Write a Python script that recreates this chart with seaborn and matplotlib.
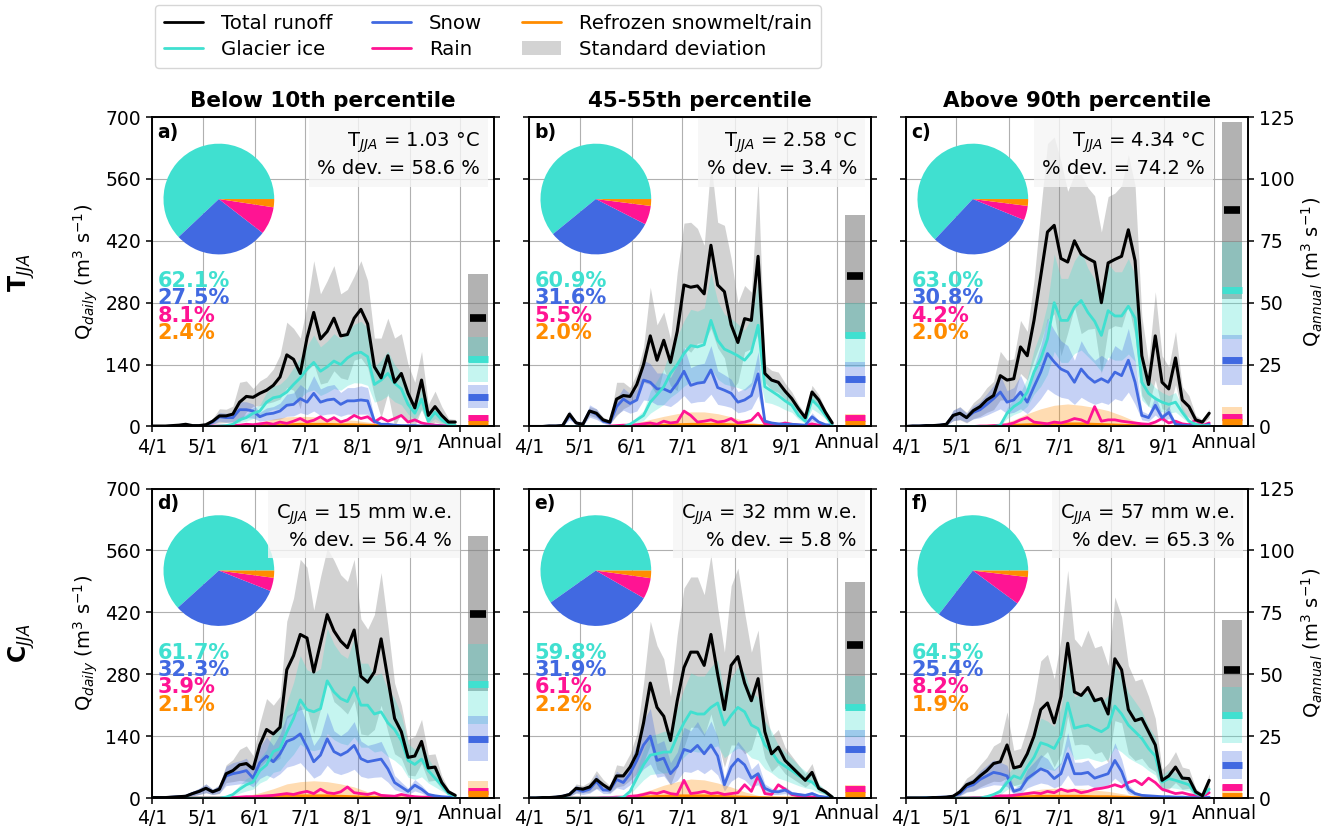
import numpy as np
import matplotlib
matplotlib.use("Agg")
import matplotlib.pyplot as plt
import seaborn as sns
from matplotlib.lines import Line2D
from matplotlib.patches import Patch

# ==========================================
# DATA
# ==========================================

days = np.arange(0, 184, 4)    # days after 1 April
days8 = np.arange(0, 184, 8)   # coarser grid for refrozen melt

# ---- a) T_JJA below 10th percentile ----
total_a = [1,1,1,2,3,5,2,2,4,12, 24,24,28,55,68,66,75,82,93,112,
           162,152,120,200,258,198,215,245,205,208, 245,265,232,135,110,160,100,120,75,42,
           105,25,45,25,10,10]
glacier_a = [0,0,0,0,0,0,0,0,0,0, 1,2,5,15,20,30,35,55,65,68,
             78,95,110,130,145,125,135,148,140,155, 165,168,158,95,105,120,98,85,50,30,
             62,12,32,15,5,3]
snow_a = [0,0,0,1,2,4,1,1,2,10, 22,20,20,38,38,35,22,28,30,35,
          48,50,63,55,75,55,60,62,50,58, 58,60,58,12,5,5,3,2,2,2,
          1,1,1,1,0,0]
rain_a = [0,0,0,0,0,0,0,0,0,1, 1,1,2,3,5,4,6,8,5,10,
          7,12,18,10,14,22,12,20,10,15, 25,18,22,10,20,12,18,25,10,15,
          8,5,3,2,1,1]
total_sd_a = [0,0,0,1,2,3,1,1,2,6, 16,15,18,45,35,20,28,30,37,50,
              74,70,80,74,117,102,115,119,95,102, 95,110,98,65,90,85,100,90,65,58,
              65,25,35,20,8,6]
glacier_sd_a = [0,0,0,0,0,0,0,0,0,0, 0,1,2,6,8,12,14,22,26,28,
                32,38,45,52,62,55,58,62,58,62, 66,70,65,40,45,50,42,36,22,14,
                25,6,14,7,2,1]
snow_sd_a = [0,0,0,0,1,2,0,0,1,5, 10,10,10,18,18,16,10,14,15,18,
             25,26,32,28,40,30,32,33,27,30, 30,32,30,6,3,3,2,1,1,1,
             0,0,0,0,0,0]
refr_a = [0,0,0,0,0,0,0.5,1,2,3,4,5,5,5,4,4,3,2,1,0.5,0,0,0]
refr_sd_a = [0,0,0,0,0,0,1,3,8,14,18,18,17,14,12,10,7,4,2,1,0,0,0]

# ---- b) T_JJA 45-55th percentile ----
total_b = [0,0,0,1,1,2,28,8,5,35, 30,15,10,62,70,68,95,140,205,150,
           195,145,215,320,315,318,300,410,320,305, 230,190,244,240,385,120,105,100,80,63,
           40,20,78,60,32,8]
glacier_b = [0]*15 + [5,15,25,55,72,90,120,140,165,183, 180,185,240,195,175,168,160,150,168,229,
                      90,80,70,58,48,25,12,60,45,25, 3]
snow_b = [0,0,0,1,1,2,25,8,5,35, 28,12,8,45,62,52,60,105,100,85,
          85,78,98,125,93,98,100,128,88,82, 75,55,60,70,119,12,8,6,5,5,
          4,3,22,10,4,3]
rain_b = [0,0,0,0,0,0,0,0,0,0, 0,0,1,2,3,3,4,6,8,5,
          12,8,10,35,25,10,12,15,10,12, 18,8,10,14,30,6,5,4,8,5,
          3,2,6,3,1,1]
total_sd_b = [0,0,0,0,1,1,8,3,2,10, 10,6,4,38,30,20,25,40,110,80,
              64,53,134,140,147,130,110,188,142,150, 150,90,75,64,175,20,22,23,18,15,
              10,8,15,12,6,3]
glacier_sd_b = [0]*15 + [2,7,11,25,32,40,54,63,74,82, 81,83,108,88,79,76,72,68,76,100,
                         35,28,24,20,16,9,4,20,15,8, 1]
snow_sd_b = [0,0,0,0,0,1,10,3,2,14, 12,5,3,18,25,22,25,45,42,36,
             36,33,42,55,40,42,43,55,38,35, 32,24,26,30,50,5,3,2,2,2,
             2,1,9,4,2,1]
refr_b = [0,0,0,0,0,0,0,0.5,1,2,3,4,5,5,5,4,3,2,1,0.5,0,0,0]
refr_sd_b = [0,0,0,0,0,0,1,3,8,14,20,25,28,28,24,18,10,5,2,1,0,0,0]

# ---- c) T_JJA above 90th percentile ----
total_c = [0,1,1,2,2,3,5,25,30,20, 36,45,60,70,115,105,108,180,160,240,
           340,440,455,380,372,420,390,380,372,280, 370,378,385,445,375,160,95,205,100,85,
           155,60,45,15,10,30]
glacier_c = [0]*14 + [3,30,45,55,78,123,153,198,280,240, 240,270,285,258,238,206,262,250,250,272,
                      245,100,75,63,55,50,55,32,12,5, 2,2]
snow_c = [0,1,1,2,2,3,5,25,30,20, 32,38,50,63,78,55,60,78,55,90,
          123,165,146,130,123,100,130,112,100,108, 100,123,115,150,100,25,20,48,20,32,
          5,3,2,2,1,5]
rain_c = [0,0,0,0,0,0,0,0,0,0, 0,1,1,2,3,4,8,15,20,10,
          8,6,10,8,12,18,15,8,45,12, 15,15,12,10,8,6,5,10,18,8,
          12,6,4,15,2,8]
total_sd_c = [0,0,0,1,1,2,3,12,15,12, 18,22,28,32,55,45,45,60,55,90,
              150,200,200,220,160,150,180,160,150,160, 150,150,160,170,170,90,50,100,60,50,
              60,30,25,10,5,10]
glacier_sd_c = [0]*14 + [1,12,18,22,32,50,62,80,110,95, 95,105,112,100,95,82,105,100,100,108,
                         98,40,30,25,22,20,22,12,5,2, 1,1]
snow_sd_c = [0,0,0,1,1,1,2,12,14,10, 15,18,24,30,38,26,28,38,26,45,
             60,80,72,64,60,50,64,55,50,53, 50,60,57,72,50,10,8,22,8,14,
             2,1,1,1,0,2]
refr_c = [0,0,0,0,0,0,0.5,1,3,4,5,6,6,6,5,4,3,2,1,0.5,0,0,0]
refr_sd_c = [0,0,0,0,0,0,1,5,12,25,35,42,45,42,38,32,22,10,4,1,0,0,0]

# ---- d) C_JJA below 10th percentile ----
total_d = [1,1,1,2,3,4,10,15,22,14, 20,55,62,75,78,66,120,155,145,160,
           290,322,370,362,285,350,415,378,355,340, 380,275,262,285,360,270,180,150,92,95,
           128,68,70,35,14,6]
glacier_d = [0]*11 + [2,8,20,30,36,62,75,105,112, 149,180,222,200,195,202,265,240,225,218,
                      250,210,210,190,195,170,155,130,85,76, 88,62,45,29,10,4]
snow_d = [1,1,1,2,3,4,10,15,22,14, 20,50,55,58,62,45,80,95,82,100,
          128,134,145,115,82,97,134,105,97,105, 119,89,82,85,88,66,35,25,15,29,
          20,8,5,3,2,1]
rain_d = [0,0,0,0,0,0,0,0,0,0, 0,1,1,2,3,3,4,5,6,8,
          10,8,12,15,10,20,12,10,14,25, 12,10,8,12,6,5,4,8,5,3,
          2,2,1,1,0,0]
total_sd_d = [0,0,0,1,1,2,5,7,10,6, 10,20,25,35,40,30,50,70,65,70,
              110,130,170,160,140,150,150,160,150,150, 160,130,120,130,150,120,80,60,40,45,
              50,30,30,15,6,3]
glacier_sd_d = [0]*11 + [1,4,9,14,16,28,34,47,50, 67,81,100,90,88,91,119,108,101,98,
                         112,95,95,86,88,76,70,58,38,34, 40,28,20,13,4,2]
snow_sd_d = [0,0,0,1,1,2,5,7,10,6, 9,22,25,26,28,20,36,43,37,45,
             58,60,65,52,37,44,60,47,44,47, 54,40,37,38,40,30,16,11,7,13,
             9,4,2,1,1,0]
refr_d = [0,0,0,0,0,0,0.5,1,2,3,4,5,5,5,4,3,2,1,0.5,0,0,0,0]
refr_sd_d = [0,0,0,0,0,0,1,4,10,18,28,32,34,32,28,22,12,5,2,1,0,0,0]

# ---- e) C_JJA 45-55th percentile ----
total_e = [0,0,1,1,2,4,8,22,20,25, 42,30,20,50,50,70,100,170,260,205,
           185,130,220,295,330,330,300,370,280,200, 300,320,260,220,270,150,100,115,85,70,
           55,40,58,22,14,2]
glacier_e = [0]*14 + [2,15,45,75,97,100,104,104,140,170, 195,190,190,205,215,165,187,205,195,165,
                      157,120,104,82,72,62,51,42,36,22, 12,2]
snow_e = [0,0,1,1,2,4,8,20,15,20, 38,18,18,42,35,55,85,120,140,85,
          90,55,72,110,105,119,100,120,95,30, 70,88,75,45,55,22,15,14,18,10,
          8,6,10,4,2,1]
rain_e = [0,0,0,0,0,0,0,0,0,0, 0,1,1,2,2,4,5,8,12,10,
          15,10,8,40,10,12,15,10,12,8, 10,12,30,15,50,10,8,30,20,8,
          5,3,2,2,1,0]
total_sd_e = [0,0,0,1,1,2,4,10,8,12, 20,12,8,25,22,30,45,90,140,140,
              130,100,150,180,170,170,160,180,150,130, 180,200,160,110,110,60,40,40,30,25,
              20,15,20,8,5,1]
glacier_sd_e = [0]*14 + [1,6,20,34,44,45,47,47,63,77, 88,86,86,92,97,74,84,92,88,74,
                         71,54,47,37,32,28,23,19,16,10, 5,1]
snow_sd_e = [0,0,0,0,1,2,4,9,7,9, 17,8,8,19,16,25,38,54,63,38,
             40,25,32,50,47,54,45,54,43,14, 32,40,34,20,25,10,7,6,8,5,
             4,3,5,2,1,0]
refr_e = [0,0,0,0,0,0,0.3,1,2,3,4,5,5,5,4,3,2,1,0.5,0,0,0,0]
refr_sd_e = [0,0,0,0,0,0,1,3,8,15,25,32,38,36,30,22,12,5,2,1,0,0,0]

# ---- f) C_JJA above 90th percentile ----
total_f = [0,0,0,0,1,1,2,4,14,30, 36,50,62,78,82,120,68,72,100,140,
           200,215,170,230,350,240,232,250,220,225, 190,315,290,200,175,180,150,120,40,50,
           70,45,44,14,5,40]
glacier_f = [0]*12 + [3,8,15,35,50,44,70,92, 125,120,112,140,215,158,162,165,157,150,
                      160,208,190,165,150,135,112,95,36,44, 40,35,30,10,5,20]
snow_f = [0,0,0,1,1,2,2,4,10,25, 30,42,50,58,55,50,15,20,44,55,
          66,60,44,55,100,55,55,58,45,50, 55,85,60,20,10,6,5,4,3,3,
          2,2,1,1,0,2]
rain_f = [0,0,0,0,0,0,0,0,0,0, 1,1,2,3,5,5,6,8,10,12,
          10,15,12,20,15,18,12,15,20,22, 25,30,25,35,40,30,45,35,20,15,
          10,12,8,5,3,12]
total_sd_f = [0,0,0,0,1,1,2,3,8,15, 20,25,30,40,45,75,40,40,60,80,
              110,110,100,130,165,120,110,130,120,120, 110,140,120,100,90,90,80,60,25,30,
              35,25,22,8,4,15]
glacier_sd_f = [0]*12 + [1,4,7,16,22,20,32,41, 56,54,50,63,97,71,73,74,71,68,
                         72,94,86,74,68,61,50,43,16,20, 18,16,14,5,2,9]
snow_sd_f = [0,0,0,0,0,1,1,2,5,12, 14,20,24,28,26,24,7,10,21,26,
             32,29,21,26,48,26,26,28,22,24, 26,40,28,10,5,3,2,2,1,1,
             1,1,0,0,0,1]
refr_f = [0,0,0,0,0,0,0.3,1,2,3,4,4,4,4,3,3,2,1,0.5,0,0,0,0]
refr_sd_f = [0,0,0,0,0,0,1,3,7,12,16,18,18,17,15,12,8,4,2,1,0,0,0]

# ---- annual means / std (right axis), order a..f ----
ann_total = [43.8, 60.6, 87.3, 74.4, 61.7, 51.9]
ann_total_sd = [17.9, 24.9, 35.7, 31.3, 25.6, 19.9]
ann_glacier = [27.2, 36.9, 55.0, 45.9, 36.9, 33.5]
ann_glacier_sd = [9.1, 12.8, 19.5, 16.2, 12.4, 11.4]
ann_snow = [12.0, 19.1, 26.9, 24.0, 19.7, 13.2]
ann_snow_sd = [4.7, 7.0, 10.1, 9.1, 7.6, 5.7]
ann_rain = [3.5, 3.3, 3.7, 2.9, 3.8, 4.3]
ann_rain_sd = [1.0, 1.0, 1.5, 1.0, 1.0, 1.0]
ann_refr = [1.05, 1.2, 1.75, 1.56, 1.36, 0.99]
ann_refr_sd = [1.0, 4.0, 6.0, 5.5, 4.0, 2.5]

# ---- pie shares (%): glacier, snow, rain, refrozen ----
pct_a = [62.1, 27.5, 8.1, 2.4]
pct_b = [60.9, 31.6, 5.5, 2.0]
pct_c = [63.0, 30.8, 4.2, 2.0]
pct_d = [61.7, 32.3, 3.9, 2.1]
pct_e = [59.8, 31.9, 6.1, 2.2]
pct_f = [64.5, 25.4, 8.2, 1.9]

t_jja = ["1.03", "2.58", "4.34"]
c_jja = ["15", "32", "57"]
pct_dev = ["58.6", "3.4", "74.2", "56.4", "5.8", "65.3"]

col_titles = ["Below 10th percentile", "45-55th percentile", "Above 90th percentile"]
tick_days = [0, 30, 61, 91, 122, 153, 183]
tick_labels = ["4/1", "5/1", "6/1", "7/1", "8/1", "9/1", ""]

# ==========================================
# STYLE
# ==========================================

sns.set_style("ticks")
plt.rcParams["font.family"] = ["DejaVu Sans"]
plt.rcParams.update({
    "axes.edgecolor": "black", "axes.labelcolor": "black", "text.color": "black",
    "xtick.color": "black", "ytick.color": "black",
    "xtick.major.size": 4.5, "ytick.major.size": 4.5,
    "xtick.major.width": 1.1, "ytick.major.width": 1.1,
    "axes.linewidth": 1.2,
})

C_TOT = "black"
C_GLA = "turquoise"
C_SNO = "royalblue"
C_RAI = "deeppink"
C_REF = "darkorange"

panels = [
    dict(total=total_a, glacier=glacier_a, snow=snow_a, rain=rain_a, refr=refr_a,
         tsd=total_sd_a, gsd=glacier_sd_a, ssd=snow_sd_a, rsd=refr_sd_a, pct=pct_a),
    dict(total=total_b, glacier=glacier_b, snow=snow_b, rain=rain_b, refr=refr_b,
         tsd=total_sd_b, gsd=glacier_sd_b, ssd=snow_sd_b, rsd=refr_sd_b, pct=pct_b),
    dict(total=total_c, glacier=glacier_c, snow=snow_c, rain=rain_c, refr=refr_c,
         tsd=total_sd_c, gsd=glacier_sd_c, ssd=snow_sd_c, rsd=refr_sd_c, pct=pct_c),
    dict(total=total_d, glacier=glacier_d, snow=snow_d, rain=rain_d, refr=refr_d,
         tsd=total_sd_d, gsd=glacier_sd_d, ssd=snow_sd_d, rsd=refr_sd_d, pct=pct_d),
    dict(total=total_e, glacier=glacier_e, snow=snow_e, rain=rain_e, refr=refr_e,
         tsd=total_sd_e, gsd=glacier_sd_e, ssd=snow_sd_e, rsd=refr_sd_e, pct=pct_e),
    dict(total=total_f, glacier=glacier_f, snow=snow_f, rain=rain_f, refr=refr_f,
         tsd=total_sd_f, gsd=glacier_sd_f, ssd=snow_sd_f, rsd=refr_sd_f, pct=pct_f),
]

box_right = [0.959, 0.959, 0.874, 0.877, 0.959, 0.962]
letters = ["a)", "b)", "c)", "d)", "e)", "f)"]

# ==========================================
# FIGURE
# ==========================================

fig = plt.figure(figsize=(13.38, 8.33), dpi=100)
axes = fig.subplots(2, 3)
fig.subplots_adjust(left=0.1136, right=0.9327, bottom=0.042, top=0.8595,
                    wspace=0.1023, hspace=0.2006)

xb, wb = 193.5, 11.5   # annual bar position / width

for i, (ax, p) in enumerate(zip(axes.flat, panels)):
    row, col = divmod(i, 3)
    tot = np.array(p["total"], float)
    gla = np.array(p["glacier"], float)
    sno = np.array(p["snow"], float)
    ref = np.array(p["refr"], float)

    # std bands
    ax.fill_between(days, np.clip(tot - np.array(p["tsd"]), 0, None), tot + np.array(p["tsd"]),
                    color="gray", alpha=0.35, lw=0, zorder=1)
    ax.fill_between(days, np.clip(gla - np.array(p["gsd"]), 0, None), gla + np.array(p["gsd"]),
                    color=C_GLA, alpha=0.3, lw=0, zorder=1.1)
    ax.fill_between(days, np.clip(sno - np.array(p["ssd"]), 0, None), sno + np.array(p["ssd"]),
                    color=C_SNO, alpha=0.3, lw=0, zorder=1.2)
    ax.fill_between(days8, np.clip(ref - np.array(p["rsd"]), 0, None), ref + np.array(p["rsd"]),
                    color=C_REF, alpha=0.3, lw=0, zorder=1.3)

    # mean lines
    sns.lineplot(x=days8, y=ref, color=C_REF, lw=2, ax=ax, zorder=3)
    sns.lineplot(x=days, y=p["rain"], color=C_RAI, lw=2, ax=ax, zorder=3.1)
    sns.lineplot(x=days, y=sno, color=C_SNO, lw=2, ax=ax, zorder=3.2)
    sns.lineplot(x=days, y=gla, color=C_GLA, lw=2, ax=ax, zorder=3.3)
    sns.lineplot(x=days, y=tot, color=C_TOT, lw=2.2, ax=ax, zorder=3.4)

    ax.set_xlim(0, 203)
    ax.set_ylim(0, 700)
    ax.set_yticks(np.arange(0, 701, 140))
    ax.set_xticks(tick_days)
    ax.set_xticklabels(tick_labels)
    ax.set_xticks([189], ["Annual"], minor=True)
    ax.tick_params(axis="x", which="minor", length=0, pad=4.5)
    ax.tick_params(which="both", labelsize=13.5)
    ax.grid(True, color="#b0b0b0", lw=0.8)
    ax.set_axisbelow(True)
    ax.set_xlabel("")
    ax.set_ylabel("")
    if col == 0:
        ax.set_ylabel("Q$_{daily}$ (m$^3$ s$^{-1}$)", fontsize=14)
    else:
        ax.tick_params(axis="y", labelleft=False)
    if row == 0:
        ax.set_title(col_titles[col], fontsize=15.5, fontweight="bold", pad=7)

    # annual bars on the right axis
    ax2 = ax.twinx()
    ax2.set_ylim(0, 125)
    ax2.set_yticks(np.arange(0, 126, 25))
    ax2.tick_params(labelsize=13.5)
    if col == 2:
        ax2.set_ylabel("Q$_{annual}$ (m$^3$ s$^{-1}$)", fontsize=14)
    else:
        ax2.tick_params(axis="y", labelright=False)

    for m, s, c, a in [(ann_total[i], ann_total_sd[i], "gray", 0.6),
                       (ann_glacier[i], ann_glacier_sd[i], C_GLA, 0.3),
                       (ann_snow[i], ann_snow_sd[i], C_SNO, 0.3),
                       (ann_rain[i], ann_rain_sd[i], C_RAI, 0.3),
                       (ann_refr[i], ann_refr_sd[i], C_REF, 0.3)]:
        lo = max(m - s, 0)
        ax2.bar(xb, m + s - lo, bottom=lo, width=wb, color=c, alpha=a, lw=0)
    ax2.hlines(ann_glacier[i], xb - wb / 2, xb + wb / 2, colors=C_GLA, lw=5)
    ax2.hlines(ann_snow[i], xb - wb / 2, xb + wb / 2, colors=C_SNO, lw=5)
    ax2.hlines(ann_rain[i], xb - wb / 2, xb + wb / 2, colors=C_RAI, lw=5)
    ax2.hlines(ann_refr[i], xb - wb / 2, xb + wb / 2, colors=C_REF, lw=5)
    ax2.hlines(ann_total[i], xb - wb * 0.43, xb + wb * 0.43, colors=C_TOT, lw=5.5)

    # pie inset
    pax = ax.inset_axes([0.032, 0.554, 0.327, 0.362])
    pax.pie(p["pct"], colors=[C_GLA, C_SNO, C_RAI, C_REF], startangle=0,
            counterclock=True, wedgeprops=dict(linewidth=0))
    pax.set_xlim(-1.01, 1.01)
    pax.set_ylim(-1.01, 1.01)
    pax.set_aspect("equal")

    # percentages
    for k, (v, c) in enumerate(zip(p["pct"], [C_GLA, C_SNO, C_RAI, C_REF])):
        ax2.text(0.016, 0.47 - 0.056 * k, f"{v:.1f}%", color=c, fontsize=15,
                 fontweight="bold", va="center", ha="left", transform=ax2.transAxes)

    # panel letter
    ax2.text(0.016, 0.982, letters[i], fontsize=13.5, fontweight="bold",
             va="top", ha="left", transform=ax2.transAxes)

    # stats box
    if row == 0:
        first = f"T$_{{JJA}}$ = {t_jja[col]} °C"
    else:
        first = f"C$_{{JJA}}$ = {c_jja[col]} mm w.e."
    ax2.text(box_right[i], 0.879, first + f"\n% dev. = {pct_dev[i]} %",
             fontsize=14, ha="right", va="center", multialignment="right",
             linespacing=1.3, transform=ax2.transAxes, zorder=10,
             bbox=dict(boxstyle="square,pad=0.42", facecolor="#f5f5f5",
                       edgecolor="none", alpha=0.8))

# row labels
fig.text(0.0165, 0.673, "T$_{JJA}$", rotation=90, fontsize=17, fontweight="bold",
         ha="center", va="center")
fig.text(0.0165, 0.228, "C$_{JJA}$", rotation=90, fontsize=17, fontweight="bold",
         ha="center", va="center")

# legend
handles = [
    Line2D([], [], color=C_TOT, lw=2),
    Line2D([], [], color=C_GLA, lw=2),
    Line2D([], [], color=C_SNO, lw=2),
    Line2D([], [], color=C_RAI, lw=2),
    Line2D([], [], color=C_REF, lw=2),
    Patch(facecolor="lightgray", edgecolor="none"),
]
labels = ["Total runoff", "Glacier ice", "Snow", "Rain",
          "Refrozen snowmelt/rain", "Standard deviation"]
fig.legend(handles, labels, loc="upper left", bbox_to_anchor=(0.1158, 0.994),
           ncol=3, fontsize=14.2, frameon=True, borderaxespad=0,
           handletextpad=0.9, borderpad=0.45, labelspacing=0.35)

fig.savefig("out.png", dpi=100)
